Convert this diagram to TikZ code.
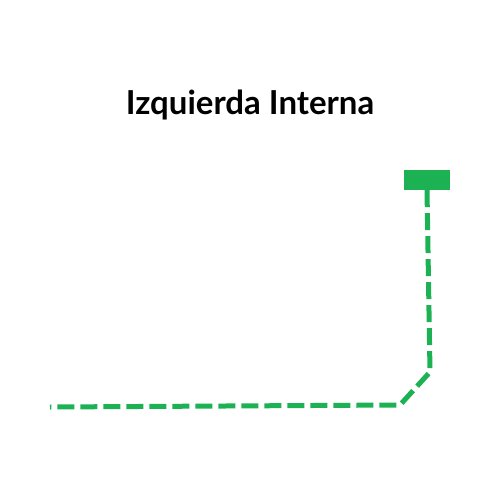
\documentclass[tikz,border=0pt]{standalone}
\usepackage{fontspec}
\setmainfont{Lato}
\definecolor{grn}{RGB}{28,178,84}
\begin{document}
\begin{tikzpicture}[x=1pt,y=-1pt,
  pathline/.style={draw=grn,line width=5pt,dash pattern=on 17pt off 6pt},
  capbox/.style={fill=grn,draw=none,minimum width=46pt,minimum height=20pt,inner sep=0pt}]
\useasboundingbox (0,0) rectangle (500,500);
\node[font=\bfseries\fontsize{33}{36}\selectfont] (title) at (250,105) {Izquierda Interna};
\node[capbox] (cap) at (427,180) {};
\coordinate (bend1) at (430,372);
\coordinate (bend2) at (400,405);
\coordinate (end) at (50,407);
\draw[pathline] (cap.south) -- (bend1) -- (bend2) -- (end);
\end{tikzpicture}
\end{document}
